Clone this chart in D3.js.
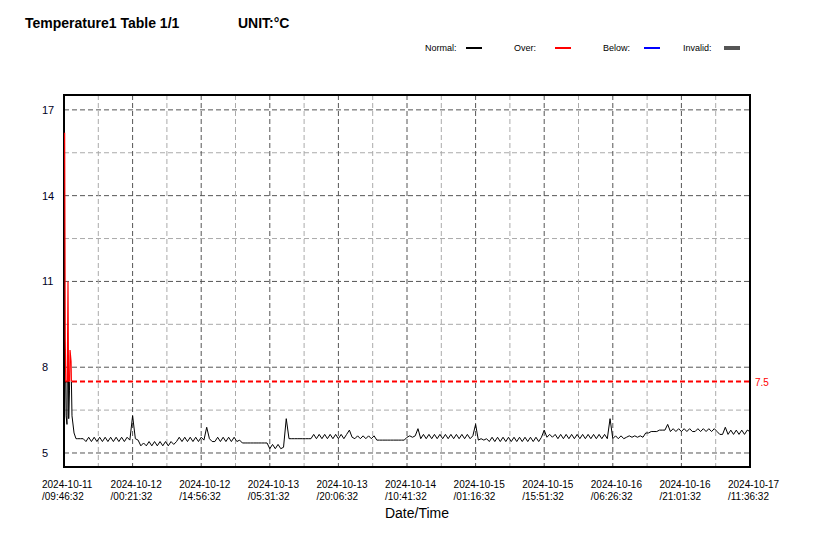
<!DOCTYPE html>
<html><head><meta charset="utf-8">
<script src="https://cdn.jsdelivr.net/npm/d3@7"></script>
<style>body{margin:0;background:#fff;font-family:"Liberation Sans",Arial,sans-serif}</style>
</head><body><div id="chart"></div>
<script>
const width = 814, height = 539;
const margin = {left: 64, right: 64, top: 95, bottom: 72};

// time labels every 875 minutes from start
const tickLabels = ["2024-10-11/09:46:32","2024-10-12/00:21:32","2024-10-12/14:56:32","2024-10-13/05:31:32",
  "2024-10-13/20:06:32","2024-10-14/10:41:32","2024-10-15/01:16:32","2024-10-15/15:51:32",
  "2024-10-16/06:26:32","2024-10-16/21:01:32","2024-10-17/11:36:32"];
const yTicks = [5, 8, 11, 14, 17];
const overLimit = 7.5;

// first readings (minutes from start)
const headMinutes = [8, 16, 27, 38, 51, 60, 70, 77, 90, 102, 128, 153];
const headTemps = [16.2, 9.0, 6.3, 6.0, 11.0, 6.2, 7.2, 8.6, 8.2, 6.3, 5.7, 5.5];
// then a reading every 35 minutes from minute 175
const bodyStart = 175, bodyStep = 35;
const bodyTemps = [
  5.5,5.5,5.5,5.4,5.55,5.4,5.55,5.4,5.55,5.4,5.55,5.4,5.55,5.4,5.55,5.4,5.55,5.4,5.55,5.45,6.3,5.5,5.45,5.25,5.35,
  5.25,5.4,5.25,5.4,5.25,5.4,5.25,5.4,5.25,5.4,5.3,5.4,5.55,5.4,5.55,5.4,5.55,5.4,5.55,5.4,5.55,5.45,5.9,5.5,5.4,
  5.4,5.55,5.4,5.55,5.4,5.55,5.4,5.55,5.4,5.45,5.35,5.35,5.35,5.35,5.35,5.35,5.35,5.35,5.35,5.35,5.15,5.3,5.15,5.3,5.15,
  5.2,6.2,5.5,5.5,5.5,5.5,5.5,5.5,5.5,5.5,5.5,5.65,5.5,5.65,5.5,5.65,5.5,5.65,5.5,5.65,5.5,5.65,5.5,5.65,5.8,
  5.55,5.5,5.6,5.5,5.6,5.5,5.6,5.5,5.6,5.45,5.45,5.45,5.45,5.45,5.45,5.45,5.45,5.45,5.45,5.45,5.55,5.6,5.55,5.6,5.85,
  5.5,5.65,5.5,5.65,5.5,5.65,5.5,5.65,5.5,5.65,5.5,5.65,5.5,5.65,5.5,5.65,5.5,5.65,5.5,5.6,6.0,5.45,5.5,5.45,5.5,
  5.4,5.55,5.4,5.55,5.4,5.55,5.4,5.55,5.4,5.55,5.4,5.55,5.4,5.55,5.4,5.55,5.4,5.55,5.4,5.55,5.8,5.55,5.65,5.55,5.65,
  5.5,5.65,5.5,5.65,5.5,5.65,5.5,5.65,5.5,5.65,5.5,5.65,5.5,5.65,5.5,5.65,5.5,5.65,5.5,6.2,5.5,5.6,5.5,5.6,5.5,
  5.55,5.6,5.55,5.6,5.55,5.6,5.55,5.7,5.7,5.75,5.75,5.75,5.8,5.8,5.8,6.0,5.75,5.85,5.75,5.85,5.75,5.85,5.75,5.85,5.75,
  5.75,5.85,5.75,5.85,5.75,5.85,5.75,5.85,5.75,5.65,5.65,5.9,5.65,5.8,5.65,5.8,5.65,5.8,5.65,5.8,5.75
];

const data = headMinutes.map((m, i) => ({m, v: headTemps[i]}))
  .concat(bodyTemps.map((v, i) => ({m: Math.min(bodyStart + i * bodyStep, 8750), v})));

const x = d3.scaleLinear().domain([0, 8750]).range([margin.left, width - margin.right]);
const y = d3.scaleLinear().domain([4.51, 17.52]).range([height - margin.bottom, margin.top]);

const svg = d3.select("#chart").append("svg").attr("width", width).attr("height", height);

svg.append("text").attr("x", 25).attr("y", 28).attr("font-size", 14).attr("font-weight", "bold")
  .text("Temperature1 Table 1/1");
svg.append("text").attr("x", 238).attr("y", 28).attr("font-size", 14).attr("font-weight", "bold")
  .text("UNIT:°C");

// legend
const legend = [["Normal:", "#000", 466, 2], ["Over:", "#f00", 555, 2], ["Below:", "#00f", 644, 2], ["Invalid:", "#555", 724, 4]];
legend.forEach(([t, c, lx, w]) => {
  svg.append("text").attr("x", lx - 41).attr("y", 51).attr("font-size", 9).text(t);
  svg.append("line").attr("x1", lx).attr("x2", lx + 16).attr("y1", 48).attr("y2", 48)
    .attr("stroke", c).attr("stroke-width", w);
});

// grid
const halfY = d3.range(5, 17.1, 1.5);
halfY.forEach((v, i) => {
  svg.append("line").attr("x1", margin.left).attr("x2", width - margin.right)
    .attr("y1", y(v)).attr("y2", y(v))
    .attr("stroke", i % 2 ? "#aaa" : "#555").attr("stroke-dasharray", "5,3");
});
d3.range(0, 8751, 437.5).forEach((m, i) => {
  if (i === 0 || i === 20) return;
  svg.append("line").attr("x1", x(m)).attr("x2", x(m)).attr("y1", margin.top).attr("y2", height - margin.bottom)
    .attr("stroke", i % 2 ? "#aaa" : "#555").attr("stroke-dasharray", "5,3");
});

// over limit line
svg.append("line").attr("x1", margin.left).attr("x2", width - margin.right)
  .attr("y1", y(overLimit)).attr("y2", y(overLimit))
  .attr("stroke", "#f00").attr("stroke-width", 2).attr("stroke-dasharray", "5,3");
svg.append("text").attr("x", width - margin.right + 5).attr("y", y(overLimit) + 4)
  .attr("font-size", 10).attr("fill", "#f00").text(overLimit);

// frame
svg.append("rect").attr("x", margin.left).attr("y", margin.top)
  .attr("width", width - margin.left - margin.right).attr("height", height - margin.top - margin.bottom)
  .attr("fill", "none").attr("stroke", "#000").attr("stroke-width", 2);

// data line, red above limit
const line = d3.line().x(d => x(d.m)).y(d => y(d.v));
const defs = svg.append("defs");
defs.append("clipPath").attr("id", "below").append("rect")
  .attr("x", 0).attr("y", y(overLimit)).attr("width", width).attr("height", height);
defs.append("clipPath").attr("id", "above").append("rect")
  .attr("x", 0).attr("y", 0).attr("width", width).attr("height", y(overLimit));
svg.append("path").datum(data).attr("d", line).attr("fill", "none").attr("stroke", "#000")
  .attr("stroke-width", 1).attr("clip-path", "url(#below)");
svg.append("path").datum(data).attr("d", line).attr("fill", "none").attr("stroke", "#f00")
  .attr("stroke-width", 1.2).attr("clip-path", "url(#above)");

// y axis labels
yTicks.forEach(v => {
  svg.append("text").attr("x", 42).attr("y", y(v) + 4).attr("font-size", 11).attr("fill", "#002").text(v);
});

// x axis labels
tickLabels.forEach((t, i) => {
  const [d, tm] = t.split("/");
  const tx = svg.append("text").attr("x", x(i * 875) - 22).attr("y", 488).attr("font-size", 10);
  tx.append("tspan").text(d);
  tx.append("tspan").attr("x", x(i * 875) - 22).attr("dy", 12).text("/" + tm);
});
svg.append("text").attr("x", x(4375) + 10).attr("y", 518).attr("font-size", 14)
  .attr("text-anchor", "middle").text("Date/Time");
</script></body></html>
